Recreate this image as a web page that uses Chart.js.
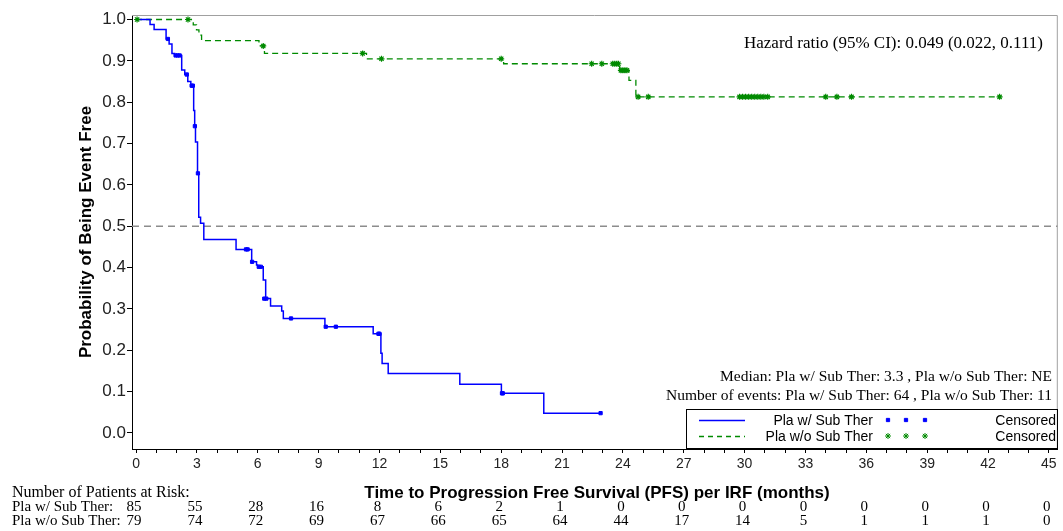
<!DOCTYPE html>
<html>
<head>
<meta charset="utf-8">
<script src="https://cdn.jsdelivr.net/npm/chart.js@4/dist/chart.umd.min.js"></script>
<style>
  body { margin: 0; background: #fff; }
  canvas { display: block; }
</style>
</head>
<body>
<canvas id="km" width="1063" height="531"></canvas>
<script>
// Kaplan-Meier steps: time (months) and survival after each drop
const withTimes = [0, 0.69, 0.89, 1.48, 1.63, 1.77, 1.9, 2.25, 2.4, 2.55, 2.7, 2.84, 2.89, 2.93, 3.03, 3.09, 3.18, 3.34,
  4.93, 5.7, 5.94, 6.0, 6.27, 6.39, 6.63, 7.18, 7.26, 9.31, 11.69, 12.07, 12.13, 12.43, 15.96, 18.01, 20.1, 22.9];
const withSurv = [1.0, 0.988, 0.976, 0.953, 0.941, 0.918, 0.913, 0.878, 0.867, 0.85, 0.84, 0.78, 0.742, 0.704, 0.628, 0.522, 0.507, 0.468,
  0.444, 0.414, 0.406, 0.402, 0.37, 0.325, 0.307, 0.295, 0.277, 0.257, 0.24, 0.193, 0.168, 0.144, 0.118, 0.096, 0.048, 0.048];
const withCensT = [1.57, 1.95, 2.05, 2.15, 2.5, 2.74, 2.8, 2.9, 3.05, 5.42, 5.5, 5.72, 6.05, 6.15, 6.32, 6.42, 7.64, 9.35, 9.85, 11.95, 12.0, 18.04, 18.08, 22.9];
const withCensS = [0.953, 0.913, 0.913, 0.913, 0.867, 0.84, 0.84, 0.742, 0.628, 0.444, 0.444, 0.414, 0.402, 0.402, 0.325, 0.325, 0.277, 0.257, 0.257, 0.24, 0.24, 0.096, 0.096, 0.048];

const withoutTimes = [0, 2.82, 2.98, 3.1, 3.23, 6.06, 6.33, 11.36, 18.12, 23.84, 24.3, 24.64, 42.57];
const withoutSurv = [1.0, 0.987, 0.975, 0.962, 0.949, 0.936, 0.918, 0.905, 0.893, 0.877, 0.853, 0.813, 0.813];
const withoutCensT = [0.05, 2.56, 6.27, 11.17, 12.1, 18.0, 22.46, 22.96, 23.5, 23.6, 23.7, 23.78, 23.9, 24.0, 24.1, 24.2, 24.75, 25.25,
  29.75, 29.9, 30.05, 30.2, 30.35, 30.5, 30.65, 30.8, 30.95, 31.14, 34.0, 34.55, 35.27, 42.57];
const withoutCensS = [1.0, 1.0, 0.936, 0.918, 0.905, 0.905, 0.893, 0.893, 0.893, 0.893, 0.893, 0.893, 0.877, 0.877, 0.877, 0.877, 0.813, 0.813,
  0.813, 0.813, 0.813, 0.813, 0.813, 0.813, 0.813, 0.813, 0.813, 0.813, 0.813, 0.813, 0.813, 0.813];

const medianLine = 0.5;
const yTicks = [0, 0.1, 0.2, 0.3, 0.4, 0.5, 0.6, 0.7, 0.8, 0.9, 1.0];
const riskTimes = [0, 3, 6, 9, 12, 15, 18, 21, 24, 27, 30, 33, 36, 39, 42, 45];
const riskWith = [85, 55, 28, 16, 8, 6, 2, 1, 0, 0, 0, 0, 0, 0, 0, 0];
const riskWithout = [79, 74, 72, 69, 67, 66, 65, 64, 44, 17, 14, 5, 1, 1, 1, 0];

const BLUE = '#0000ff';
const GREEN = '#008a00';
const xy = (ts, vs) => ts.map((t, i) => ({ x: t, y: vs[i] }));

const sans = '"Liberation Sans", Arial, sans-serif';
const serif = '"Liberation Serif", "Times New Roman", serif';

const overlay = {
  id: 'overlay',
  afterDraw(chart) {
    const { ctx, chartArea: a, scales: { x } } = chart;
    const H = Chart.helpers;
    ctx.save();

    // thin frame on the top and right
    ctx.strokeStyle = '#a0a0a0';
    ctx.lineWidth = 1;
    ctx.beginPath();
    ctx.moveTo(a.left, a.top + 0.5);
    ctx.lineTo(a.right - 0.5, a.top + 0.5);
    ctx.lineTo(a.right - 0.5, a.bottom);
    ctx.stroke();

    // axis titles
    ctx.fillStyle = '#000';
    ctx.font = 'bold 17px ' + sans;
    ctx.textAlign = 'center';
    ctx.textBaseline = 'middle';
    ctx.fillText('Time to Progression Free Survival (PFS) per IRF (months)', 597, 493);
    ctx.save();
    ctx.translate(86, 232);
    ctx.rotate(-Math.PI / 2);
    ctx.fillText('Probability of Being Event Free', 0, 0);
    ctx.restore();

    // annotations
    ctx.font = '17px ' + serif;
    ctx.textAlign = 'right';
    ctx.fillText('Hazard ratio (95% CI): 0.049 (0.022, 0.111)', 1043, 44);
    ctx.font = '15.5px ' + serif;
    ctx.fillText('Median: Pla w/ Sub Ther: 3.3 , Pla w/o Sub Ther: NE', 1052, 377);
    ctx.fillText('Number of events: Pla w/ Sub Ther: 64 , Pla w/o Sub Ther: 11', 1052, 396);

    // legend
    ctx.strokeStyle = '#000';
    ctx.lineWidth = 1;
    ctx.strokeRect(686.5, 409.5, 371, 39);
    const rows = [
      { label: 'Pla w/ Sub Ther', color: BLUE, dash: [], style: 'rect', r: 2.3, y: 420 },
      { label: 'Pla w/o Sub Ther', color: GREEN, dash: [5, 4], style: 'star', r: 3, y: 436 }
    ];
    ctx.font = '14px ' + sans;
    rows.forEach(row => {
      ctx.strokeStyle = row.color;
      ctx.lineWidth = 1.3;
      ctx.setLineDash(row.dash);
      ctx.beginPath();
      ctx.moveTo(699, row.y + 0.5);
      ctx.lineTo(745, row.y + 0.5);
      ctx.stroke();
      ctx.setLineDash([]);
      ctx.fillStyle = '#000';
      ctx.textAlign = 'right';
      ctx.fillText(row.label, 873, row.y + 1);
      ctx.fillText('Censored', 1056, row.y + 1);
      ctx.fillStyle = row.color;
      ctx.lineWidth = 1;
      [888, 906, 925].forEach(px => {
        H.drawPoint(ctx, { pointStyle: row.style, radius: row.r, borderWidth: 1 }, px, row.y);
      });
    });

    // patients at risk table
    ctx.fillStyle = '#000';
    ctx.font = '16px ' + serif;
    ctx.textAlign = 'left';
    ctx.fillText('Number of Patients at Risk:', 12, 493);
    ctx.font = '15px ' + serif;
    ctx.fillText('Pla w/ Sub Ther:', 12, 507);
    ctx.fillText('Pla w/o Sub Ther:', 12, 521);
    ctx.textAlign = 'center';
    riskTimes.forEach((t, i) => {
      const px = x.getPixelForValue(t);
      ctx.fillText(String(riskWith[i]), px - 2, 507);
      ctx.fillText(String(riskWithout[i]), px - 2, 521);
    });
    ctx.restore();
  }
};

new Chart(document.getElementById('km'), {
  type: 'line',
  data: {
    datasets: [
      {
        data: xy(withTimes, withSurv), stepped: 'before', borderColor: BLUE, borderWidth: 1.5,
        pointRadius: 0, fill: false, order: 2
      },
      {
        data: xy(withCensT, withCensS), showLine: false, pointStyle: 'rect', pointRadius: 2.3,
        backgroundColor: BLUE, borderColor: BLUE, borderWidth: 1, order: 1
      },
      {
        data: xy(withoutTimes, withoutSurv), stepped: 'before', borderColor: GREEN, borderWidth: 1.3,
        borderDash: [6, 4], pointRadius: 0, fill: false, order: 2
      },
      {
        data: xy(withoutCensT, withoutCensS), showLine: false, pointStyle: 'star', pointRadius: 3,
        backgroundColor: GREEN, borderColor: GREEN, borderWidth: 1.2, order: 1
      },
      {
        data: [{ x: -0.2, y: medianLine }, { x: 45.44, y: medianLine }], borderColor: '#8c8c8c',
        borderWidth: 1.5, borderDash: [7, 5], pointRadius: 0, fill: false, order: 3
      }
    ]
  },
  options: {
    responsive: false,
    animation: false,
    devicePixelRatio: 1,
    layout: { padding: { top: 15, right: 2, left: 0, bottom: 0 } },
    plugins: { legend: { display: false }, tooltip: { enabled: false } },
    scales: {
      x: {
        type: 'linear', min: -0.2, max: 45.44,
        // one tick per month, labelled every third month
        afterBuildTicks: s => { s.ticks = Array.from({ length: 46 }, (_, i) => ({ value: i })); },
        afterFit: s => { s.height = 82; },
        grid: { drawOnChartArea: false, tickLength: 4, color: '#000' },
        border: { color: '#000', width: 1 },
        ticks: {
          autoSkip: false, maxRotation: 0, padding: 3, color: '#222',
          font: { family: sans, size: 14 },
          callback: v => (v % 3 === 0 ? String(v) : '')
        }
      },
      y: {
        type: 'linear', min: -0.0387, max: 1.0109,
        afterBuildTicks: s => { s.ticks = yTicks.map(v => ({ value: v })); },
        afterFit: s => { s.width = 132; },
        grid: { drawOnChartArea: false, tickLength: 5, color: '#000' },
        border: { color: '#000', width: 1 },
        ticks: {
          padding: 1, color: '#222',
          font: { family: sans, size: 17 },
          callback: v => v.toFixed(1)
        }
      }
    }
  },
  plugins: [overlay]
});
</script>
</body>
</html>
